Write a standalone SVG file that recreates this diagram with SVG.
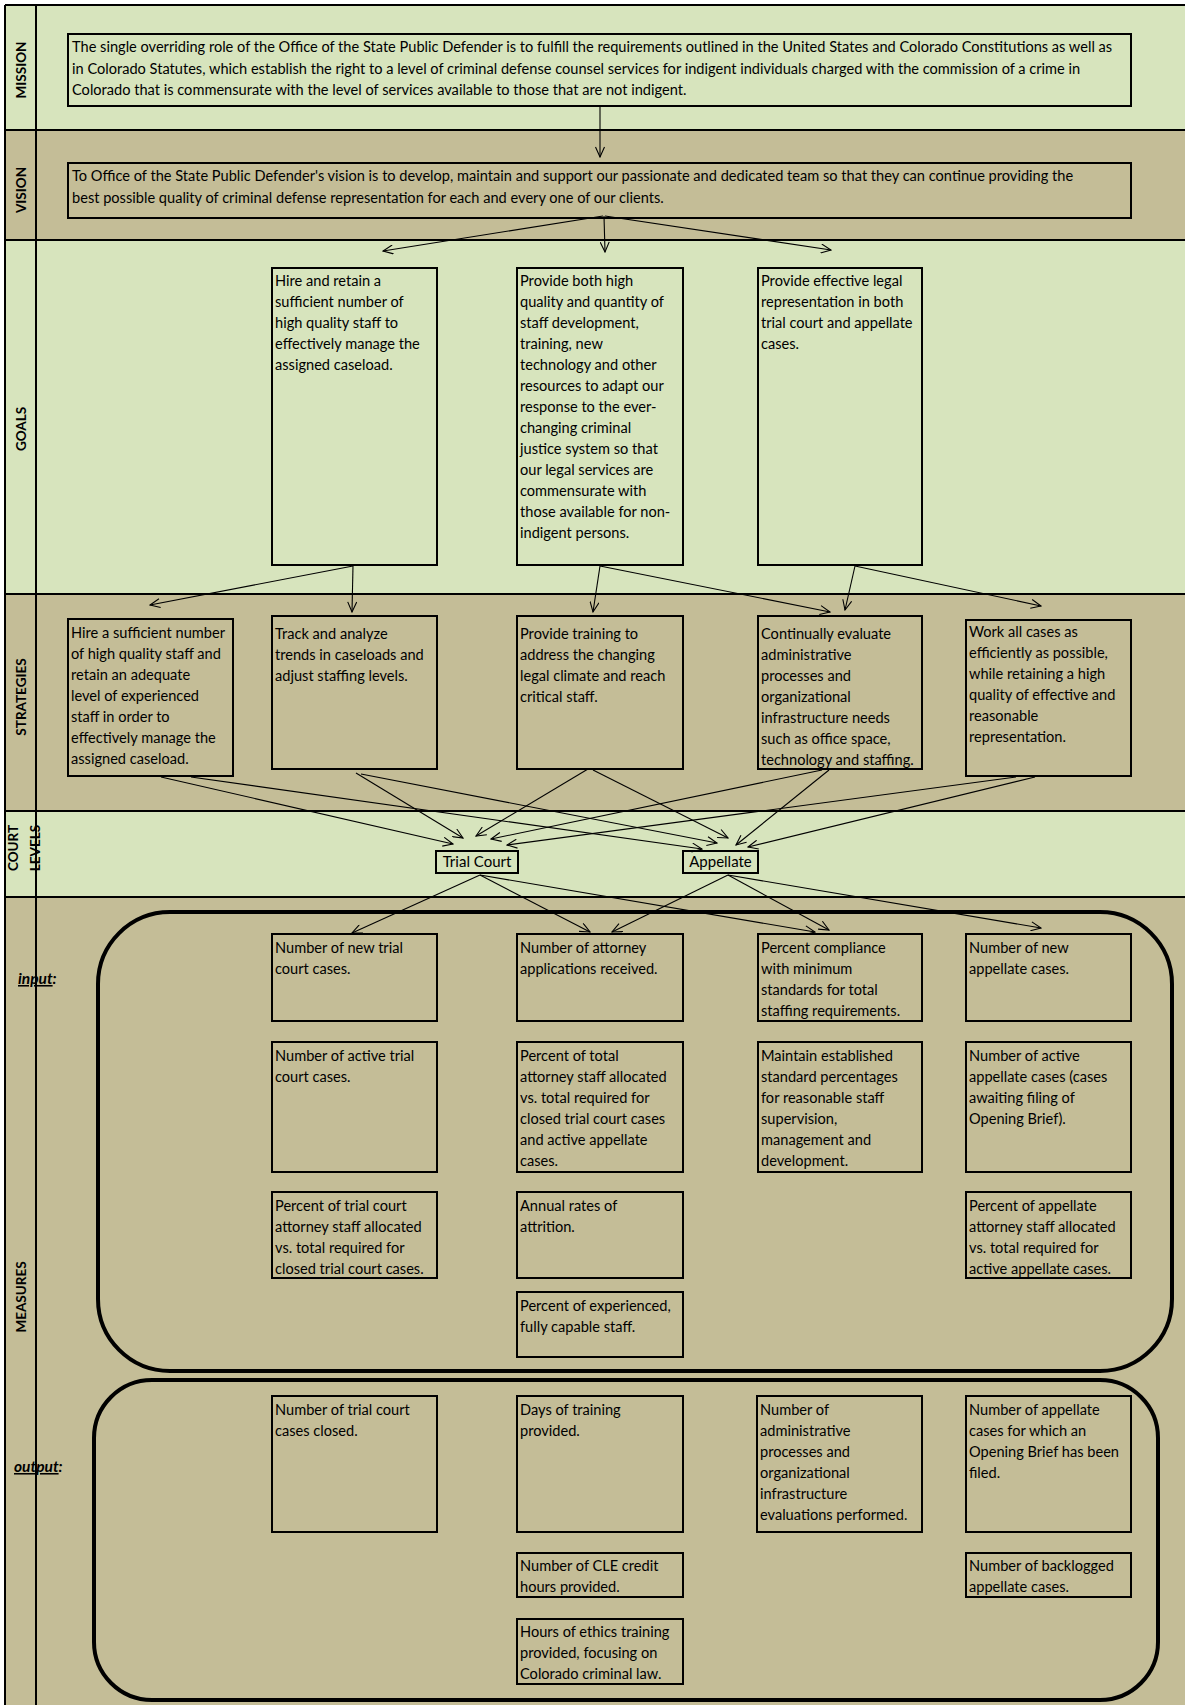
<svg xmlns="http://www.w3.org/2000/svg" width="1185" height="1705" viewBox="0 0 1185 1705">
<style>
.g{fill:#D7E4BD}
.t{fill:#C4BD97}
.bx{stroke:#000;stroke-width:2}
.rr{fill:none;stroke:#000;stroke-width:4}
.ln{stroke:#000;stroke-width:2;fill:none}
text{font-family:Lato,"Open Sans","Liberation Sans",sans-serif;font-size:14.6px;fill:#000}
.lane{font-weight:bold;font-size:13.5px;text-anchor:middle}
.io{font-weight:bold;font-style:italic;font-size:15.5px}
.ct{font-size:15px;text-anchor:middle}
.c line{stroke:#000;stroke-width:1.1;marker-end:url(#ah)}
</style>
<defs>
<marker id="ah" markerUnits="userSpaceOnUse" markerWidth="12" markerHeight="10" refX="11" refY="5" orient="auto">
<path d="M1,0.5 L11,5 L1,9.5" fill="none" stroke="#000" stroke-width="1.1"/>
</marker>
</defs>
<rect x="0" y="0" width="1185" height="1705" fill="#fff"/>
<g id="bands">
<rect class="g" x="5" y="5" width="1180" height="125"/>
<rect class="t" x="5" y="130" width="1180" height="110"/>
<rect class="g" x="5" y="240" width="1180" height="354"/>
<rect class="t" x="5" y="594" width="1180" height="217"/>
<rect class="g" x="5" y="811" width="1180" height="86"/>
<rect class="t" x="5" y="897" width="1180" height="808"/>
<path class="ln" d="M5,5 H1185 M5,130 H1185 M5,240 H1185 M5,594 H1185 M5,811 H1185 M5,897 H1185"/>
</g>
<g id="lanes">
<text class="lane" transform="translate(26,70) rotate(-90)">MISSION</text>
<text class="lane" transform="translate(26,190) rotate(-90)">VISION</text>
<text class="lane" transform="translate(26,429) rotate(-90)">GOALS</text>
<text class="lane" transform="translate(26,697) rotate(-90)">STRATEGIES</text>
<text class="lane" transform="translate(18,848) rotate(-90)">COURT</text>
<text class="lane" transform="translate(40,848) rotate(-90)">LEVELS</text>
<text class="lane" transform="translate(26,1297) rotate(-90)">MEASURES</text>
<text class="io" x="18" y="984"><tspan text-decoration="underline">input</tspan>:</text>
<text class="io" x="14" y="1472"><tspan text-decoration="underline">output</tspan>:</text>
<path class="ln" d="M5,5 V1705 M36,5 V1705"/>
</g>
<g id="groups">
<rect class="rr" x="98" y="912" width="1074" height="459" rx="72" ry="72"/>
<rect class="rr" x="94" y="1380" width="1064" height="320" rx="58" ry="58"/>
</g>
<g id="mission">
<rect class="g bx" x="68" y="34" width="1063" height="72"/>
<text x="72" y="52">The single overriding role of the Office of the State Public Defender is to fulfill the requirements outlined in the United States and Colorado Constitutions as well as<tspan x="72" dy="21.5">in Colorado Statutes, which establish the right to a level of criminal defense counsel services for indigent individuals charged with the commission of a crime in</tspan><tspan x="72" dy="21.5">Colorado that is commensurate with the level of services available to those that are not indigent.</tspan></text>
</g>
<g id="vision">
<rect class="t bx" x="68" y="163" width="1063" height="55"/>
<text x="72" y="181">To Office of the State Public Defender's vision is to develop, maintain and support our passionate and dedicated team so that they can continue providing the<tspan x="72" dy="21.5">best possible quality of criminal defense representation for each and every one of our clients.</tspan></text>
</g>
<g id="goal1">
<rect class="g bx" x="272" y="268" width="165" height="297"/>
<text x="275" y="286">Hire and retain a<tspan x="275" dy="21">sufficient number of</tspan><tspan x="275" dy="21">high quality staff to</tspan><tspan x="275" dy="21">effectively manage the</tspan><tspan x="275" dy="21">assigned caseload.</tspan></text>
</g>
<g id="goal2">
<rect class="g bx" x="517" y="268" width="166" height="297"/>
<text x="520" y="286">Provide both high<tspan x="520" dy="21">quality and quantity of</tspan><tspan x="520" dy="21">staff development,</tspan><tspan x="520" dy="21">training, new</tspan><tspan x="520" dy="21">technology and other</tspan><tspan x="520" dy="21">resources to adapt our</tspan><tspan x="520" dy="21">response to the ever-</tspan><tspan x="520" dy="21">changing criminal</tspan><tspan x="520" dy="21">justice system so that</tspan><tspan x="520" dy="21">our legal services are</tspan><tspan x="520" dy="21">commensurate with</tspan><tspan x="520" dy="21">those available for non-</tspan><tspan x="520" dy="21">indigent persons.</tspan></text>
</g>
<g id="goal3">
<rect class="g bx" x="758" y="268" width="164" height="297"/>
<text x="761" y="286">Provide effective legal<tspan x="761" dy="21">representation in both</tspan><tspan x="761" dy="21">trial court and appellate</tspan><tspan x="761" dy="21">cases.</tspan></text>
</g>
<g id="strategy1">
<rect class="t bx" x="68" y="619" width="165" height="157"/>
<text x="71" y="638">Hire a sufficient number<tspan x="71" dy="21">of high quality staff and</tspan><tspan x="71" dy="21">retain an adequate</tspan><tspan x="71" dy="21">level of experienced</tspan><tspan x="71" dy="21">staff in order to</tspan><tspan x="71" dy="21">effectively manage the</tspan><tspan x="71" dy="21">assigned caseload.</tspan></text>
</g>
<g id="strategy2">
<rect class="t bx" x="272" y="616" width="165" height="153"/>
<text x="275" y="639">Track and analyze<tspan x="275" dy="21">trends in caseloads and</tspan><tspan x="275" dy="21">adjust staffing levels.</tspan></text>
</g>
<g id="strategy3">
<rect class="t bx" x="517" y="616" width="166" height="153"/>
<text x="520" y="639">Provide training to<tspan x="520" dy="21">address the changing</tspan><tspan x="520" dy="21">legal climate and reach</tspan><tspan x="520" dy="21">critical staff.</tspan></text>
</g>
<g id="strategy4">
<rect class="t bx" x="758" y="616" width="164" height="153"/>
<text x="761" y="639">Continually evaluate<tspan x="761" dy="21">administrative</tspan><tspan x="761" dy="21">processes and</tspan><tspan x="761" dy="21">organizational</tspan><tspan x="761" dy="21">infrastructure needs</tspan><tspan x="761" dy="21">such as office space,</tspan><tspan x="761" dy="21">technology and staffing.</tspan></text>
</g>
<g id="strategy5">
<rect class="t bx" x="966" y="620" width="165" height="156"/>
<text x="969" y="637">Work all cases as<tspan x="969" dy="21">efficiently as possible,</tspan><tspan x="969" dy="21">while retaining a high</tspan><tspan x="969" dy="21">quality of effective and</tspan><tspan x="969" dy="21">reasonable</tspan><tspan x="969" dy="21">representation.</tspan></text>
</g>
<g id="trial">
<rect class="g bx" x="436" y="851" width="82" height="22"/>
<text class="ct" x="477" y="867">Trial Court</text>
</g>
<g id="appellate">
<rect class="g bx" x="683" y="851" width="75" height="22"/>
<text class="ct" x="720.5" y="867">Appellate</text>
</g>
<g id="m1"><rect class="t bx" x="272" y="934" width="165" height="87"/>
<text x="275" y="953">Number of new trial<tspan x="275" dy="21">court cases.</tspan></text></g>
<g id="m2"><rect class="t bx" x="517" y="934" width="166" height="87"/>
<text x="520" y="953">Number of attorney<tspan x="520" dy="21">applications received.</tspan></text></g>
<g id="m3"><rect class="t bx" x="758" y="934" width="164" height="87"/>
<text x="761" y="953">Percent compliance<tspan x="761" dy="21">with minimum</tspan><tspan x="761" dy="21">standards for total</tspan><tspan x="761" dy="21">staffing requirements.</tspan></text></g>
<g id="m4"><rect class="t bx" x="966" y="934" width="165" height="87"/>
<text x="969" y="953">Number of new<tspan x="969" dy="21">appellate cases.</tspan></text></g>
<g id="m5"><rect class="t bx" x="272" y="1042" width="165" height="130"/>
<text x="275" y="1061">Number of active trial<tspan x="275" dy="21">court cases.</tspan></text></g>
<g id="m6"><rect class="t bx" x="517" y="1042" width="166" height="130"/>
<text x="520" y="1061">Percent of total<tspan x="520" dy="21">attorney staff allocated</tspan><tspan x="520" dy="21">vs. total required for</tspan><tspan x="520" dy="21">closed trial court cases</tspan><tspan x="520" dy="21">and active appellate</tspan><tspan x="520" dy="21">cases.</tspan></text></g>
<g id="m7"><rect class="t bx" x="758" y="1042" width="164" height="130"/>
<text x="761" y="1061">Maintain established<tspan x="761" dy="21">standard percentages</tspan><tspan x="761" dy="21">for reasonable staff</tspan><tspan x="761" dy="21">supervision,</tspan><tspan x="761" dy="21">management and</tspan><tspan x="761" dy="21">development.</tspan></text></g>
<g id="m8"><rect class="t bx" x="966" y="1042" width="165" height="130"/>
<text x="969" y="1061">Number of active<tspan x="969" dy="21">appellate cases (cases</tspan><tspan x="969" dy="21">awaiting filing of</tspan><tspan x="969" dy="21">Opening Brief).</tspan></text></g>
<g id="m9"><rect class="t bx" x="272" y="1192" width="165" height="86"/>
<text x="275" y="1211">Percent of trial court<tspan x="275" dy="21">attorney staff allocated</tspan><tspan x="275" dy="21">vs. total required for</tspan><tspan x="275" dy="21">closed trial court cases.</tspan></text></g>
<g id="m10"><rect class="t bx" x="517" y="1192" width="166" height="86"/>
<text x="520" y="1211">Annual rates of<tspan x="520" dy="21">attrition.</tspan></text></g>
<g id="m11"><rect class="t bx" x="966" y="1192" width="165" height="86"/>
<text x="969" y="1211">Percent of appellate<tspan x="969" dy="21">attorney staff allocated</tspan><tspan x="969" dy="21">vs. total required for</tspan><tspan x="969" dy="21">active appellate cases.</tspan></text></g>
<g id="m12"><rect class="t bx" x="517" y="1292" width="166" height="65"/>
<text x="520" y="1311">Percent of experienced,<tspan x="520" dy="21">fully capable staff.</tspan></text></g>
<g id="o1"><rect class="t bx" x="272" y="1396" width="165" height="136"/>
<text x="275" y="1415">Number of trial court<tspan x="275" dy="21">cases closed.</tspan></text></g>
<g id="o2"><rect class="t bx" x="517" y="1396" width="166" height="136"/>
<text x="520" y="1415">Days of training<tspan x="520" dy="21">provided.</tspan></text></g>
<g id="o3"><rect class="t bx" x="757" y="1396" width="165" height="136"/>
<text x="760" y="1415">Number of<tspan x="760" dy="21">administrative</tspan><tspan x="760" dy="21">processes and</tspan><tspan x="760" dy="21">organizational</tspan><tspan x="760" dy="21">infrastructure</tspan><tspan x="760" dy="21">evaluations performed.</tspan></text></g>
<g id="o4"><rect class="t bx" x="966" y="1396" width="165" height="136"/>
<text x="969" y="1415">Number of appellate<tspan x="969" dy="21">cases for which an</tspan><tspan x="969" dy="21">Opening Brief has been</tspan><tspan x="969" dy="21">filed.</tspan></text></g>
<g id="o5"><rect class="t bx" x="517" y="1553" width="166" height="44"/>
<text x="520" y="1571">Number of CLE credit<tspan x="520" dy="21">hours provided.</tspan></text></g>
<g id="o6"><rect class="t bx" x="966" y="1553" width="165" height="44"/>
<text x="969" y="1571">Number of backlogged<tspan x="969" dy="21">appellate cases.</tspan></text></g>
<g id="o7"><rect class="t bx" x="517" y="1619" width="166" height="65"/>
<text x="520" y="1637">Hours of ethics training<tspan x="520" dy="21">provided, focusing on</tspan><tspan x="520" dy="21">Colorado criminal law.</tspan></text></g>
<g id="connectors" class="c">
<line x1="600" y1="106" x2="600" y2="157"/>
<line x1="603" y1="216" x2="383" y2="251"/>
<line x1="604" y1="216" x2="605" y2="252"/>
<line x1="605" y1="216" x2="831" y2="250"/>
<line x1="353" y1="566" x2="150" y2="605"/>
<line x1="353" y1="566" x2="352" y2="612"/>
<line x1="600" y1="566" x2="593" y2="612"/>
<line x1="600" y1="566" x2="830" y2="612"/>
<line x1="855" y1="566" x2="845" y2="610"/>
<line x1="855" y1="566" x2="1041" y2="606"/>
<line x1="161" y1="777" x2="453" y2="844"/>
<line x1="191" y1="777" x2="702" y2="849"/>
<line x1="356" y1="773" x2="463" y2="838"/>
<line x1="361" y1="774" x2="717" y2="843"/>
<line x1="588" y1="769" x2="476" y2="836"/>
<line x1="593" y1="770" x2="728" y2="838"/>
<line x1="822" y1="770" x2="491" y2="839"/>
<line x1="829" y1="770" x2="736" y2="845"/>
<line x1="1016" y1="777" x2="507" y2="845"/>
<line x1="1035" y1="777" x2="748" y2="847"/>
<line x1="480" y1="875" x2="352" y2="933"/>
<line x1="480" y1="875" x2="590" y2="932"/>
<line x1="480" y1="875" x2="815" y2="932"/>
<line x1="728" y1="875" x2="612" y2="932"/>
<line x1="728" y1="875" x2="829" y2="930"/>
<line x1="728" y1="875" x2="1041" y2="928"/>
</g>
</svg>
